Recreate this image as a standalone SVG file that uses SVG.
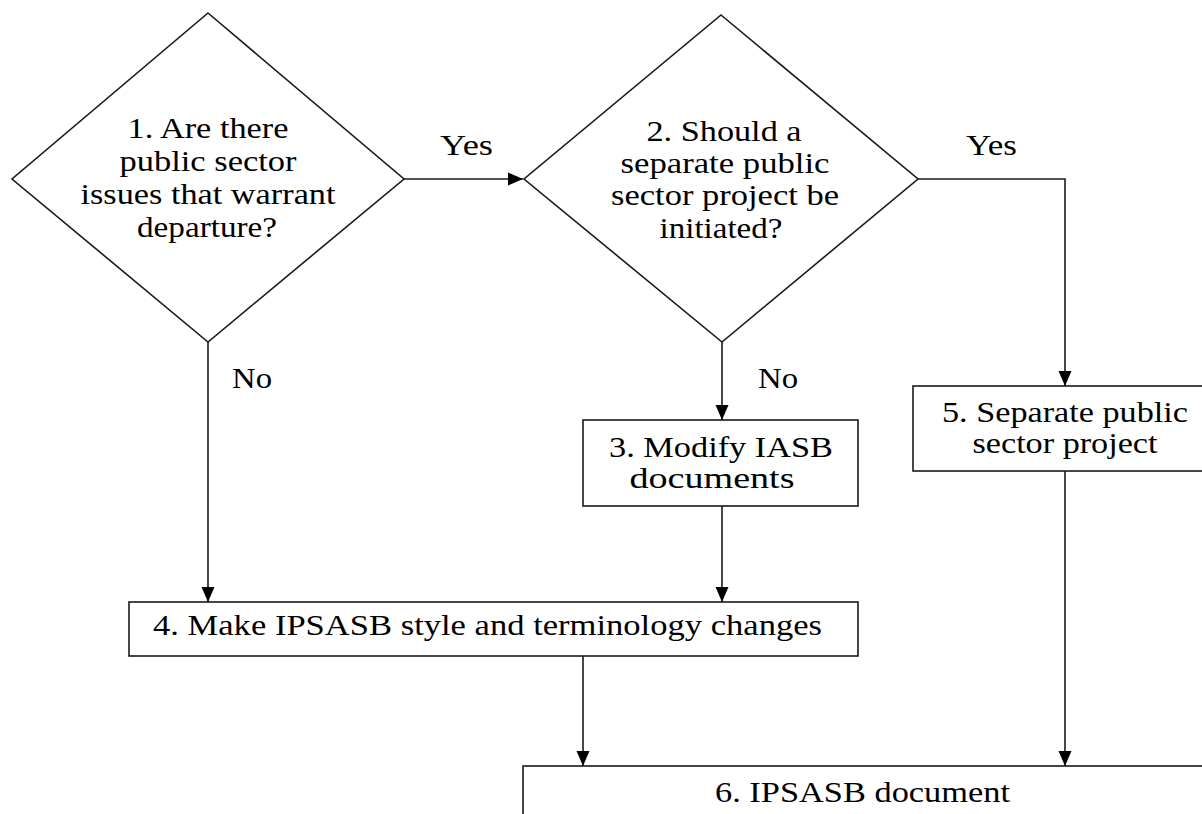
<svg xmlns="http://www.w3.org/2000/svg" width="1202" height="814" viewBox="0 0 1202 814">
<style>
.shape{fill:#fff;stroke:#1a1a1a;stroke-width:1.6}
.conn{fill:none;stroke:#1a1a1a;stroke-width:1.6}
.t{font-family:'Times New Roman','Liberation Serif',Tinos,Times,serif;font-size:29px;fill:#000}
.c{text-anchor:middle}
</style>
<defs>
<marker id="arr" markerUnits="userSpaceOnUse" markerWidth="16" markerHeight="16" viewBox="0 0 16 16" refX="15" refY="8" orient="auto">
<path d="M0,1.5 L15,8 L0,14.5 Z" fill="#000"/>
</marker>
</defs>
<rect width="1202" height="814" fill="#fff"/>
<g id="connectors">
<path class="conn" d="M404 179 H523" marker-end="url(#arr)"/>
<path class="conn" d="M918 179 H1065 V386" marker-end="url(#arr)"/>
<path class="conn" d="M722 342 V420" marker-end="url(#arr)"/>
<path class="conn" d="M208 342 V602" marker-end="url(#arr)"/>
<path class="conn" d="M722 506 V602" marker-end="url(#arr)"/>
<path class="conn" d="M583 656 V766" marker-end="url(#arr)"/>
<path class="conn" d="M1065 471 V766" marker-end="url(#arr)"/>
<text class="t" x="440" y="155" textLength="53" lengthAdjust="spacingAndGlyphs">Yes</text>
<text class="t" x="966" y="155" textLength="51" lengthAdjust="spacingAndGlyphs">Yes</text>
<text class="t" x="758" y="388" textLength="40" lengthAdjust="spacingAndGlyphs">No</text>
<text class="t" x="232" y="388" textLength="40" lengthAdjust="spacingAndGlyphs">No</text>
</g>
<g id="node1">
<polygon class="shape" points="208,13 404,179 208,342 12,179"/>
<text class="t c" x="208" y="138" textLength="161" lengthAdjust="spacingAndGlyphs">1. Are there</text>
<text class="t c" x="208" y="171" textLength="177" lengthAdjust="spacingAndGlyphs">public sector</text>
<text class="t c" x="208" y="204" textLength="255" lengthAdjust="spacingAndGlyphs">issues that warrant</text>
<text class="t c" x="207" y="237" textLength="140" lengthAdjust="spacingAndGlyphs">departure?</text>
</g>
<g id="node2">
<polygon class="shape" points="721,15 918,179 722,342 524,179"/>
<text class="t c" x="724" y="141" textLength="155" lengthAdjust="spacingAndGlyphs">2. Should a</text>
<text class="t c" x="725" y="173" textLength="209" lengthAdjust="spacingAndGlyphs">separate public</text>
<text class="t c" x="725" y="205" textLength="228" lengthAdjust="spacingAndGlyphs">sector project be</text>
<text class="t c" x="721" y="238" textLength="123" lengthAdjust="spacingAndGlyphs">initiated?</text>
</g>
<g id="node3">
<rect class="shape" x="583" y="420" width="275" height="86"/>
<text class="t c" x="721" y="457" textLength="224" lengthAdjust="spacingAndGlyphs">3. Modify IASB</text>
<text class="t c" x="712" y="488" textLength="165" lengthAdjust="spacingAndGlyphs">documents</text>
</g>
<g id="node4">
<rect class="shape" x="129" y="602" width="729" height="54"/>
<text class="t" x="153" y="635" textLength="669" lengthAdjust="spacingAndGlyphs">4. Make IPSASB style and terminology changes</text>
</g>
<g id="node5">
<rect class="shape" x="913" y="386" width="304" height="85"/>
<text class="t c" x="1065" y="422" textLength="246" lengthAdjust="spacingAndGlyphs">5. Separate public</text>
<text class="t c" x="1065" y="453" textLength="185" lengthAdjust="spacingAndGlyphs">sector project</text>
</g>
<g id="node6">
<rect class="shape" x="523" y="766" width="700" height="80"/>
<text class="t" x="715" y="802" textLength="295" lengthAdjust="spacingAndGlyphs">6. IPSASB document</text>
</g>
</svg>
